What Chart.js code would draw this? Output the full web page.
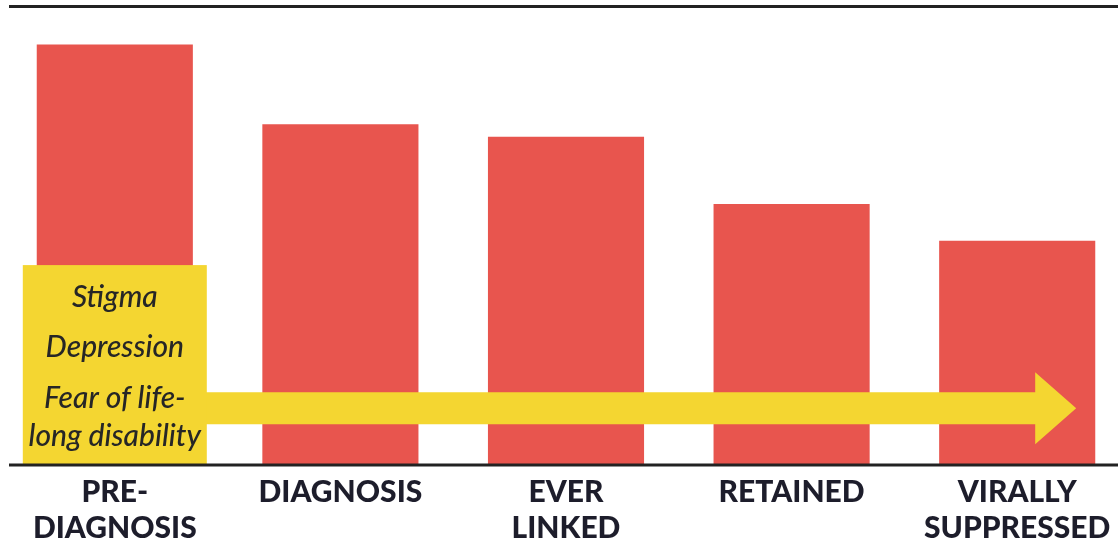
<!DOCTYPE html>
<html>
<head>
<meta charset="utf-8">
<script src="https://cdn.jsdelivr.net/npm/chart.js@4/dist/chart.umd.min.js"></script>
<style>
  html, body { margin: 0; padding: 0; background: #ffffff; overflow: hidden; }
  #wrap { width: 1132px; height: 543px; }
</style>
</head>
<body>
<div id="wrap"><canvas id="cascade" width="1132" height="543"></canvas></div>
<script>
// Stages of the HIV care cascade
const stages = [
  ['PRE-', 'DIAGNOSIS'],
  'DIAGNOSIS',
  ['EVER', 'LINKED'],
  'RETAINED',
  ['VIRALLY', 'SUPPRESSED']
];
// Relative share of people at each stage
const cascadeValues = [91.7, 74.3, 71.6, 56.9, 48.9];
// Barriers listed in the callout box
const barriers = ['Stigma', 'Depression', 'Fear of life-', 'long disability'];

const RED = '#E8554E';
const YELLOW = '#F4D631';
const INK = '#1d1d2b';

const decor = {
  id: 'decor',
  afterDatasetsDraw(chart) {
    const { ctx, scales: { x, y }, width } = chart;
    const c0 = x.getPixelForValue(0);
    const c4 = x.getPixelForValue(4);
    const base = y.getPixelForValue(0);

    const boxL = c0 - 92, boxR = c0 + 92;
    const boxT = y.getPixelForValue(43.6);

    // arrow running across the cascade
    const midY = y.getPixelForValue(12.4);
    const tip = c4 + 59, headBack = tip - 41;
    ctx.save();
    ctx.fillStyle = YELLOW;
    ctx.beginPath();
    ctx.moveTo(boxR - 2, midY - 16);
    ctx.lineTo(headBack, midY - 16);
    ctx.lineTo(headBack, midY - 36);
    ctx.lineTo(tip, midY);
    ctx.lineTo(headBack, midY + 36);
    ctx.lineTo(headBack, midY + 16);
    ctx.lineTo(boxR - 2, midY + 16);
    ctx.closePath();
    ctx.fill();

    // callout box
    ctx.fillRect(boxL, boxT, boxR - boxL, base - boxT);

    ctx.fillStyle = '#262626';
    ctx.font = 'italic 500 30px Lato, "Open Sans", sans-serif';
    ctx.textAlign = 'center';
    ctx.textBaseline = 'middle';
    const offsets = [32, 82, 133, 171];
    barriers.forEach((t, i) => ctx.fillText(t, c0, boxT + offsets[i]));

    // top and bottom rules
    ctx.fillStyle = '#222222';
    ctx.fillRect(9, y.getPixelForValue(100) - 1.5, width - 9, 3);
    ctx.fillRect(9, base - 1.5, width - 9, 3);
    ctx.restore();
  }
};

new Chart(document.getElementById('cascade'), {
  type: 'bar',
  data: {
    labels: stages,
    datasets: [{
      data: cascadeValues,
      backgroundColor: RED,
      borderWidth: 0,
      barPercentage: 0.692,
      categoryPercentage: 1.0
    }]
  },
  options: {
    responsive: false,
    animation: false,
    layout: { padding: { left: 2, right: 2, top: 6.5, bottom: 0 } },
    plugins: { legend: { display: false }, tooltip: { enabled: false } },
    scales: {
      x: {
        grid: { display: false, drawTicks: false },
        border: { display: false },
        ticks: {
          color: INK,
          padding: 9,
          maxRotation: 0,
          autoSkip: false,
          font: { family: 'Lato, "Open Sans", sans-serif', size: 30, weight: '900', lineHeight: 1.2 }
        },
        afterFit(scale) { scale.height = 78; }
      },
      y: {
        display: false,
        min: 0,
        max: 100
      }
    }
  },
  plugins: [decor]
});
</script>
</body>
</html>
